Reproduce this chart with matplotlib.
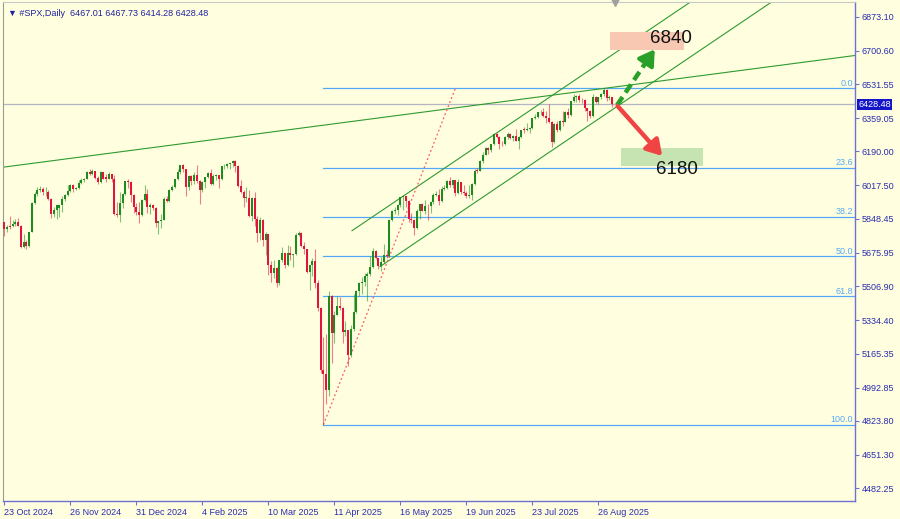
import numpy as np
import matplotlib.pyplot as plt
from matplotlib.patches import Rectangle
from matplotlib.transforms import blended_transform_factory

plt.rcParams['font.family'] = ['Liberation Sans', 'DejaVu Sans']

# #SPX daily candles, 23 Oct 2024 .. 2 Sep 2025 (one line per month)
opens = [
    5830, 5797, 5809, 5812, 5823, 5833, 5813,
    5705, 5729, 5712, 5783, 5929, 5973, 5996, 6001, 5984, 5985, 5949, 5871, 5893, 5905, 5917, 5949, 5969, 5987, 6021, 5999, 6005,
    6032, 6047, 6050, 6086, 6075, 6090, 6053, 6034, 6084, 6058, 6051, 6074, 6050, 5872, 5867, 5931, 5974, 6040, 6037, 5971, 5907,
    5882, 5869, 5942, 5975, 5909, 5918, 5905, 5827, 5836, 5842, 5950, 5937, 5997, 6012, 6049, 6086, 6119, 6101, 6012, 6068, 6039, 6071,
    6040, 5994, 6037, 6061, 6083, 6026, 6066, 6069, 6052, 6115, 6115, 6125, 6129, 6144, 6117, 6013, 5983, 5955, 5956, 5861,
    5955, 5849, 5778, 5842, 5739, 5770, 5614, 5572, 5599, 5521, 5639, 5675, 5615, 5675, 5663, 5668, 5767, 5777, 5712, 5693, 5581,
    5612, 5633, 5525, 5396, 5080, 5062, 4982, 5457, 5268, 5363, 5406, 5396, 5276, 5283, 5158, 5288, 5376, 5485, 5525, 5529, 5561,
    5569, 5604, 5687, 5650, 5607, 5631, 5664, 5660, 5844, 5886, 5892, 5917, 5958, 5964, 5940, 5845, 5842, 5802, 5890, 5922, 5889, 5913,
    5912, 5936, 5970, 5971, 5939, 6000, 6006, 6039, 6022, 6045, 5977, 6033, 5983, 5981, 5965, 5967, 6025, 6097, 6092, 6141, 6173,
    6205, 6198, 6227, 6279, 6265, 6230, 6226, 6263, 6280, 6260, 6269, 6244, 6264, 6302, 6297, 6306, 6310, 6359, 6363, 6389, 6390, 6371, 6362,
    6339, 6238, 6330, 6299, 6345, 6340, 6389, 6374, 6446, 6466, 6469, 6450, 6449, 6411, 6396, 6370, 6467, 6440, 6465, 6481, 6502,
    6460, 6467.01,
]
highs = [
    5834, 5817, 5863, 5842, 5847, 5851, 5815,
    5772, 5741, 5783, 5933, 5983, 6012, 6017, 6009, 6008, 5993, 5952, 5909, 5920, 5921, 5963, 5972, 6020, 6025, 6024, 6010, 6044,
    6053, 6053, 6089, 6099, 6099, 6092, 6065, 6092, 6086, 6078, 6085, 6076, 6070, 5935, 5982, 5978, 6040, 6049, 6040, 5975, 5930,
    5935, 5949, 6021, 6000, 5927, 5925, 5910, 5837, 5871, 5960, 5965, 6001, 6020, 6051, 6100, 6120, 6128, 6102, 6069, 6070, 6086, 6121,
    6045, 6042, 6062, 6084, 6101, 6074, 6076, 6070, 6117, 6128, 6130, 6129, 6147, 6146, 6120, 6044, 5993, 6010, 5994, 5959,
    5986, 5865, 5860, 5845, 5783, 5772, 5636, 5642, 5605, 5639, 5704, 5677, 5716, 5711, 5670, 5775, 5786, 5780, 5732, 5695, 5615,
    5650, 5695, 5540, 5400, 5247, 5267, 5481, 5460, 5381, 5459, 5450, 5400, 5328, 5285, 5309, 5469, 5487, 5528, 5553, 5572, 5581,
    5659, 5700, 5690, 5652, 5655, 5721, 5691, 5845, 5892, 5906, 5925, 5960, 5968, 5966, 5945, 5878, 5850, 5900, 5925, 5930, 5944, 5922,
    5937, 5981, 5990, 5999, 6016, 6021, 6043, 6060, 6047, 6046, 6050, 6035, 6018, 5990, 6018, 6028, 6101, 6108, 6146, 6188, 6215,
    6210, 6230, 6285, 6284, 6268, 6242, 6269, 6290, 6282, 6273, 6303, 6268, 6300, 6316, 6336, 6316, 6362, 6381, 6392, 6401, 6409, 6394, 6428,
    6342, 6332, 6343, 6349, 6395, 6395, 6410, 6448, 6481, 6474, 6481, 6459, 6456, 6412, 6398, 6482, 6470, 6468, 6485, 6510, 6505,
    6475, 6467.73,
]
lows = [
    5762, 5784, 5799, 5808, 5811, 5811, 5703,
    5700, 5696, 5705, 5780, 5925, 5965, 5986, 5969, 5966, 5946, 5853, 5860, 5850, 5860, 5885, 5940, 5964, 5985, 5984, 5995, 6000,
    6026, 6033, 6048, 6070, 6072, 6048, 6027, 6030, 6051, 6036, 6050, 6035, 5867, 5860, 5833, 5902, 5970, 6007, 5932, 5879, 5869,
    5829, 5865, 5940, 5877, 5874, 5895, 5809, 5773, 5801, 5840, 5934, 5935, 5990, 6006, 6045, 6074, 6088, 5962, 5995, 6020, 6027, 6030,
    5923, 5985, 6007, 6055, 6019, 6020, 6044, 6004, 6045, 6100, 6108, 6100, 6111, 6084, 6008, 5981, 5908, 5932, 5858, 5837,
    5810, 5732, 5743, 5711, 5666, 5565, 5528, 5546, 5505, 5515, 5628, 5597, 5610, 5640, 5603, 5665, 5760, 5704, 5670, 5572, 5489,
    5558, 5500, 5380, 5069, 4805, 4910, 4950, 5115, 5220, 5359, 5386, 5220, 5255, 5101, 5150, 5280, 5371, 5455, 5468, 5506, 5433,
    5560, 5600, 5645, 5592, 5585, 5625, 5650, 5655, 5835, 5871, 5868, 5907, 5895, 5909, 5830, 5829, 5767, 5798, 5849, 5886, 5874, 5843,
    5879, 5926, 5966, 5921, 5935, 5994, 6000, 6010, 6003, 5963, 5975, 5974, 5970, 5955, 5952, 5943, 6020, 6080, 6090, 6132, 6170,
    6178, 6186, 6225, 6258, 6201, 6217, 6222, 6251, 6251, 6245, 6242, 6201, 6260, 6285, 6295, 6281, 6305, 6355, 6360, 6376, 6365, 6335, 6332,
    6212, 6235, 6289, 6295, 6318, 6338, 6359, 6370, 6441, 6441, 6440, 6436, 6397, 6343, 6360, 6365, 6438, 6428, 6455, 6469, 6444,
    6450, 6414.28,
]
closes = [
    5797, 5809, 5808, 5823, 5833, 5813, 5705,
    5729, 5712, 5783, 5929, 5973, 5996, 6001, 5984, 5985, 5949, 5871, 5893, 5917, 5917, 5949, 5969, 5987, 6021, 5999, 6005, 6032,
    6047, 6050, 6086, 6075, 6090, 6053, 6034, 6084, 6051, 6051, 6074, 6050, 5872, 5867, 5931, 5974, 6040, 6037, 5971, 5907, 5882,
    5869, 5942, 5975, 5909, 5918, 5905, 5827, 5836, 5842, 5950, 5937, 5997, 6012, 6049, 6086, 6119, 6101, 6012, 6068, 6039, 6071, 6040,
    5994, 6037, 6061, 6083, 6026, 6066, 6069, 6052, 6115, 6115, 6125, 6129, 6144, 6117, 6013, 5983, 5955, 5956, 5861, 5955,
    5849, 5778, 5842, 5739, 5770, 5614, 5572, 5599, 5521, 5639, 5675, 5615, 5675, 5663, 5668, 5767, 5777, 5712, 5693, 5581, 5612,
    5633, 5525, 5396, 5080, 5062, 4982, 5457, 5268, 5363, 5406, 5396, 5276, 5283, 5158, 5288, 5376, 5485, 5525, 5529, 5561, 5569,
    5604, 5687, 5650, 5607, 5631, 5664, 5660, 5844, 5886, 5892, 5917, 5958, 5964, 5940, 5845, 5842, 5802, 5890, 5922, 5889, 5913, 5912,
    5936, 5970, 5971, 5939, 6000, 6006, 6039, 6022, 6045, 5977, 6033, 5983, 5981, 5965, 5967, 6025, 6092, 6092, 6141, 6173, 6205,
    6198, 6227, 6279, 6265, 6230, 6226, 6263, 6280, 6260, 6269, 6244, 6264, 6297, 6297, 6306, 6310, 6359, 6363, 6389, 6390, 6371, 6362, 6339,
    6238, 6330, 6299, 6345, 6340, 6389, 6374, 6446, 6466, 6469, 6450, 6449, 6411, 6396, 6370, 6467, 6440, 6465, 6481, 6502, 6460,
    6467, 6428.48,
]

date_ticks = [0, 24, 48, 72, 96, 120, 144, 168, 192, 216]
date_labels = ["23 Oct 2024", "26 Nov 2024", "31 Dec 2024", "4 Feb 2025", "10 Mar 2025",
               "11 Apr 2025", "16 May 2025", "19 Jun 2025", "23 Jul 2025", "26 Aug 2025"]
price_ticks = [6873.10, 6700.60, 6531.55, 6359.05, 6190.00, 6017.50, 5848.45, 5675.95,
               5506.90, 5334.40, 5165.35, 4992.85, 4823.80, 4651.30, 4482.25]

# Fibonacci retracement (April low -> August high)
fib_low, fib_high, fib_start = 4805.0, 6510.0, 116
fib_levels = [0.0, 23.6, 38.2, 50.0, 61.8, 100.0]

# hand-drawn trendlines (bar index, price)
long_line = [(0, 6111), (320, 6696)]
chan_lower = [(136.6, 5606), (320, 7334)]
chan_upper = [(126.4, 5788), (320, 7612)]
steep_line = [(116, 4805), (164, 6510)]

# scenario arrows and targets
up_arrow = [(222.8, 6425), (236.5, 6708)]
down_arrow = [(223.0, 6420), (239.2, 6167)]
up_target, down_target = "6840", "6180"
last_price = 6428.48

BG = '#ffffe0'
AXIS_TXT = '#2b2bb0'
FIB = '#55a8f5'
BULL, BEAR = '#1f8b1f', '#e0143c'

fig = plt.figure(figsize=(9, 5.19), dpi=100, facecolor=BG)
ax = fig.add_axes([3 / 900, 18 / 519, 852 / 900, 499 / 519], facecolor=BG)

o = np.array(opens, float)
h = np.array(highs, float)
l = np.array(lows, float)
c = np.array(closes, float)
x = np.arange(len(c))
up = c >= o
cols = np.where(up, BULL, BEAR)

# candles
ax.vlines(x, np.minimum(l, np.minimum(o, c)), np.maximum(h, np.maximum(o, c)),
          colors=cols, linewidth=0.8, alpha=0.55, zorder=3)
body = np.maximum(np.abs(c - o), 2.0)
ax.bar(x, body, bottom=np.minimum(o, c), width=0.8, color=cols, linewidth=0, zorder=4)

# current price line
ax.axhline(last_price, color='#b4b4c4', linewidth=0.9, zorder=2)

# fibonacci levels
xmax = -0.5 + 852 / 2.75
rng = fib_high - fib_low
for lv in fib_levels:
    p = fib_high - rng * lv / 100.0
    ax.plot([fib_start, xmax], [p, p], color=FIB, linewidth=0.9, zorder=2)
    ax.text(xmax - 0.8, p + 3, f"{lv:.1f}", color=FIB, fontsize=6.5,
            ha='right', va='bottom', zorder=5)

# trendlines
for seg in (long_line, chan_lower, chan_upper):
    ax.plot([seg[0][0], seg[1][0]], [seg[0][1], seg[1][1]],
            color='#2f9a2f', linewidth=0.8, zorder=2)
ax.plot([steep_line[0][0], steep_line[1][0]], [steep_line[0][1], steep_line[1][1]],
        color='#ff5a5a', linewidth=0.9, linestyle=(0, (1.5, 2)), zorder=2)

# target boxes + labels
ax.add_patch(Rectangle((220.4, 6704), 26.9, 91, facecolor='#f9c8b2', edgecolor='none', zorder=5))
ax.add_patch(Rectangle((224.4, 6116), 29.8, 91, facecolor='#c6e4b2', edgecolor='none', zorder=5))
ax.text(242.5, 6764, up_target, fontsize=13.5, ha='center', va='center', color='#111111', zorder=7)
ax.text(244.6, 6096, down_target, fontsize=13.5, ha='center', va='center', color='#111111', zorder=7)

# scenario arrows
(ux0, uy0), (ux1, uy1) = up_arrow
fx = ux0 + (ux1 - ux0) * 0.8
fy = uy0 + (uy1 - uy0) * 0.8
ax.plot([ux0, fx], [uy0, fy], color='#2aa02a', linewidth=3.2,
        linestyle=(0, (2.2, 1.2)), solid_capstyle='butt', zorder=8)
ax.annotate('', xy=(ux1, uy1), xytext=(fx - (ux1 - ux0) * 0.05, fy - (uy1 - uy0) * 0.05),
            arrowprops=dict(arrowstyle='-|>,head_length=0.9,head_width=0.55',
                            color='#2aa02a', linewidth=3.0, shrinkA=0, shrinkB=0), zorder=8)
(dx0, dy0), (dx1, dy1) = down_arrow
ax.annotate('', xy=(dx1, dy1), xytext=(dx0, dy0),
            arrowprops=dict(arrowstyle='-|>,head_length=0.9,head_width=0.55',
                            color='#f04444', linewidth=3.2, shrinkA=0, shrinkB=0), zorder=8)

# axes styling
ax.set_xlim(-0.5, xmax)
ax.set_ylim(4417.9, 6947.6)
ax.yaxis.tick_right()
ax.set_yticks(price_ticks)
ax.set_yticklabels([f"{v:.2f}" for v in price_ticks])
ax.set_xticks(date_ticks)
ax.set_xticklabels(date_labels)
for t in ax.get_xticklabels():
    t.set_ha('left')
ax.tick_params(axis='y', direction='out', length=3, width=0.8, pad=2,
               colors='#7070d0', labelcolor=AXIS_TXT, labelsize=6.5)
ax.tick_params(axis='x', direction='out', length=3, width=0.8, pad=2,
               colors='#7070d0', labelcolor=AXIS_TXT, labelsize=6.5)
for side in ('right', 'bottom'):
    ax.spines[side].set_color('#7070d0')
    ax.spines[side].set_linewidth(1.0)
ax.spines['left'].set_color('#9a9a9a')
ax.spines['top'].set_color('#c8c8c8')

# last price tag on the scale
tr = blended_transform_factory(ax.transAxes, ax.transData)
ax.text(1.004, last_price, f"{last_price:.2f}", transform=tr, fontsize=6.5,
        color='white', ha='left', va='center', zorder=10, clip_on=False,
        bbox=dict(boxstyle='square,pad=0.15', facecolor='#1414c8', edgecolor='none'))

# chart shift marker at the top
ax.plot([222], [1.0], marker='v', markersize=6, color='#a0a0a0',
        transform=blended_transform_factory(ax.transData, ax.transAxes),
        clip_on=False, zorder=10)

# header
ax.text(0.006, 0.985, "\u25bc #SPX,Daily  6467.01 6467.73 6414.28 6428.48",
        transform=ax.transAxes, fontsize=6.5, color='#2020a0', ha='left', va='top')

fig.savefig('out.png', dpi=100, facecolor=BG)
